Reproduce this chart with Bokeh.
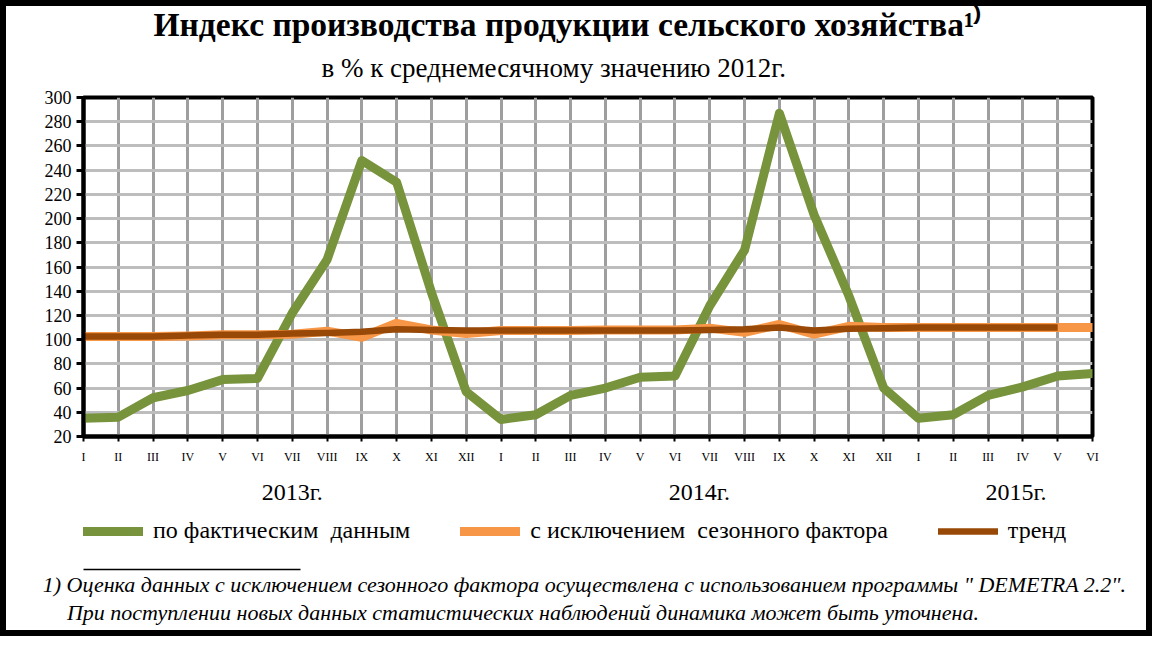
from bokeh.plotting import figure
from bokeh.models import FixedTicker, Legend, LegendItem, Range1d, LinearAxis, Title
from bokeh.layouts import column
from bokeh.embed import file_html
from bokeh.resources import INLINE

# ---------------- data ----------------
months = ["I", "II", "III", "IV", "V", "VI", "VII", "VIII", "IX", "X", "XI", "XII",
          "I", "II", "III", "IV", "V", "VI", "VII", "VIII", "IX", "X", "XI", "XII",
          "I", "II", "III", "IV", "V", "VI"]
actual = [35, 36, 52, 58, 67, 68, 122, 166, 248, 230, 139, 57,
          34, 38, 54, 60, 69, 70, 128, 174, 287, 203, 136, 60,
          35, 38, 54, 61, 70, 72]
adjusted = [102.5, 102.5, 102.5, 103, 104, 104, 104.5, 107, 102, 113.5, 108, 105,
            107.5, 107.5, 107.5, 108, 108, 108, 109.5, 106, 112.5, 104.5, 111, 110,
            110, 110, 110, 110, 110, 110]
trend = [102.5, 102.5, 102.5, 103.5, 104, 104, 105, 105.5, 106.5, 108.5, 108, 107.5,
         107.5, 107.5, 107.5, 107.5, 107.5, 107.5, 108, 108.5, 110, 107.5, 109, 109.5,
         110, 110, 110, 110, 110]
years = ["2013г.", "2014г.", "2015г."]
y_ticks = [20, 40, 60, 80, 100, 120, 140, 160, 180, 200, 220, 240, 260, 280, 300]
series_names = ["по фактическим  данным", "с исключением  сезонного фактора", "тренд"]

title_text = "Индекс производства продукции сельского хозяйства¹⁾"
subtitle_text = "в % к среднемесячному значению 2012г."
foot1 = "1) Оценка данных с исключением сезонного фактора осуществлена с использованием программы \" DEMETRA 2.2\"."
foot2 = "При поступлении новых данных статистических наблюдений динамика может быть уточнена."

# ---------------- layout constants ----------------
year_pos = [6.0, 17.7, 26.8]
foot1_pos = 14.40
foot2_pos = 12.63
rule_bounds = (-1.35, 6.24)
FONT = "Liberation Serif"
GREEN = "#77933C"
ORANGE = "#F79646"
BROWN = "#984807"
W = 1140

x = list(range(len(months)))
xr = Range1d(0, len(months) - 1)

# ---------------- main chart ----------------
p = figure(width=W, height=501, output_backend="svg", toolbar_location=None,
           x_range=xr, y_range=Range1d(20, 300),
           min_border_left=77, min_border_right=54, min_border_top=91, min_border_bottom=67)
p.background_fill_color = "white"
p.border_fill_color = "white"
p.outline_line_color = "black"
p.outline_line_width = 4

p.xaxis.ticker = FixedTicker(ticks=x)
p.xaxis.major_label_overrides = {i: m for i, m in enumerate(months)}
p.yaxis.ticker = FixedTicker(ticks=y_ticks)
for ax in (p.xaxis[0], p.yaxis[0]):
    ax.axis_line_color = "black"
    ax.axis_line_width = 4
    ax.major_tick_line_color = "black"
    ax.major_tick_in = 0
    ax.minor_tick_line_color = None
    ax.major_label_text_font = FONT
    ax.major_label_text_color = "black"
p.yaxis.major_tick_out = 7
p.yaxis.major_tick_line_width = 3
p.yaxis.major_label_text_font_size = "18px"
p.yaxis.major_label_standoff = 5
p.xaxis.major_tick_out = 5
p.xaxis.major_tick_line_width = 2
p.xaxis.major_label_text_font_size = "12px"
p.xaxis.major_label_standoff = 8

p.xgrid.ticker = FixedTicker(ticks=x)
p.xgrid.grid_line_color = "#9E9E9E"
p.xgrid.grid_line_width = 3
p.ygrid.ticker = FixedTicker(ticks=y_ticks)
p.ygrid.grid_line_color = "#BDBDBD"
p.ygrid.grid_line_width = 3

styles = [dict(line_color=GREEN, line_width=9, line_join="round", line_cap="round"),
          dict(line_color=ORANGE, line_width=9, line_join="round", line_cap="round"),
          dict(line_color=BROWN, line_width=6.5, line_join="round", line_cap="butt")]
series = [actual, adjusted, trend]
for vals, st in zip(series, styles):
    p.line(x[:len(vals)], vals, **st)


def text_axis(ticks, labels, size, style="normal", standoff=0, line=False, bounds="auto"):
    return LinearAxis(ticker=FixedTicker(ticks=ticks),
                      major_label_overrides={t: s for t, s in zip(ticks, labels)},
                      axis_line_color="black" if line else None, axis_line_width=1.5,
                      bounds=bounds,
                      major_tick_line_color=None, minor_tick_line_color=None,
                      major_tick_out=0, major_tick_in=0, major_label_standoff=standoff,
                      major_label_text_font=FONT, major_label_text_font_size=size,
                      major_label_text_font_style=style, major_label_text_color="black")


p.add_layout(text_axis(year_pos, years, "24px", standoff=12), "below")

# titles (first added = closest to the plot)
p.add_layout(Title(text=subtitle_text, align="left", offset=238, standoff=29,
                   text_font=FONT, text_font_size="27px", text_font_style="normal",
                   text_color="black"), "above")
p.add_layout(Title(text=title_text, align="left", offset=70, standoff=-13,
                   text_font=FONT, text_font_size="33.5px", text_font_style="bold",
                   text_color="black"), "above")

# ---------------- footer: legend + footnotes ----------------
foot = figure(width=W, height=123, output_backend="svg", toolbar_location=None,
              x_range=xr, y_range=Range1d(0, 1), x_axis_type=None, y_axis_type=None,
              min_border_left=77, min_border_right=54, min_border_top=0, min_border_bottom=61)
foot.grid.visible = False
foot.outline_line_color = None
foot.background_fill_color = "white"
foot.border_fill_color = "white"
# same series (outside this strip's visible range) serve as legend keys
keys = []
for vals, st in zip(series, styles):
    r = foot.line(x[:len(vals)], vals, **st)
    r.glyph.line_cap = "round"
    keys.append(r)
legend = Legend(items=[LegendItem(label=n, renderers=[r]) for n, r in zip(series_names, keys)],
                orientation="horizontal", location=(0, 25),
                background_fill_alpha=0, border_line_alpha=0,
                padding=0, margin=0, spacing=50,
                glyph_width=60, glyph_height=24, label_height=24, label_standoff=10,
                label_text_font=FONT, label_text_font_size="24px",
                label_text_color="black")
foot.add_layout(legend)
foot.add_layout(text_axis([foot1_pos], [foot1], "22px", style="italic", standoff=2,
                          line=True, bounds=rule_bounds), "below")
foot.add_layout(text_axis([foot2_pos], [foot2], "22px", style="italic", standoff=0), "below")

layout = column(p, foot, spacing=0, styles={"border": "6px solid black"})
open("out.html", "w").write(file_html(layout, INLINE))
